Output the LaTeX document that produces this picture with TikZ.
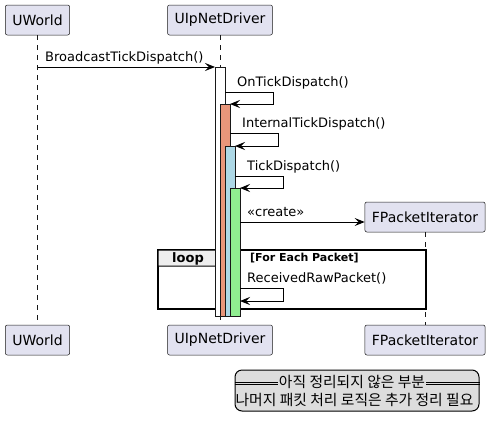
\documentclass[tikz,border=0pt]{standalone}
\usepackage{fontspec}
\setmainfont{DejaVu Sans}
\newfontfamily\kofont{Noto Sans CJK KR}
\usetikzlibrary{arrows.meta}

\definecolor{partfill}{HTML}{E2E2F0}
\definecolor{partline}{HTML}{181818}
\definecolor{barsalmon}{HTML}{E9967A}
\definecolor{barblue}{HTML}{ADD8E6}
\definecolor{bargreen}{HTML}{90EE90}
\definecolor{tabfill}{HTML}{EEEEEE}
\definecolor{notefill}{HTML}{DDDDDD}

\tikzset{
	part/.style={draw=partline, line width=0.5pt, fill=partfill, rounded corners=2pt,
		minimum height=30pt, inner xsep=7pt, font=\fontsize{14}{16}\selectfont},
	life/.style={draw=partline, line width=0.5pt, dash pattern=on 5pt off 5pt},
	bar/.style={draw=partline, line width=0.5pt, minimum width=10pt, inner sep=0pt,
		outer sep=0pt, anchor=north west},
	msg/.style={line width=1pt, -{Stealth[length=10pt, width=8pt, inset=4pt]}},
	lbl/.style={anchor=base west, inner sep=0pt, font=\fontsize{13}{15}\selectfont},
	kotext/.style={inner sep=0pt, font=\kofont\fontsize{14.8}{17}\selectfont},
}

\begin{document}
\begin{tikzpicture}[x=1pt, y=-1pt]
\useasboundingbox (0, 0) rectangle (497, 431);

\node[part] (w) at (37.5, 20) {UWorld};
\node[part] (d) at (220, 20) {UIpNetDriver};
\node[part] (fi) at (425, 217) {FPacketIterator};
\node[part] (wb) at (37.5, 340) {UWorld};
\node[part] (db) at (220, 340) {UIpNetDriver};
\node[part] (fib) at (425, 340) {FPacketIterator};

\draw[life] (w) -- (wb);
\draw[life] (d) -- (db);
\draw[life] (fi) -- (fib);

% loop group
\draw[line width=1.5pt] (158, 250) rectangle (426, 309);
\draw[line width=1pt, fill=tabfill] (158, 250) -- (234, 250) -- (234, 258) -- (226, 266) -- (158, 266) -- cycle;
\node[font=\bfseries\fontsize{13}{15}\selectfont, anchor=base] (lp) at (188, 262) {loop};
\node[font=\bfseries\fontsize{11}{13}\selectfont, anchor=base west, inner sep=0pt] (gd) at (250, 261) {[For Each Packet]};

% activations
\node[bar, fill=white, minimum height=249pt] (a1) at (215, 67) {};
\node[bar, fill=barsalmon, minimum height=212pt] (a2) at (220, 104) {};
\node[bar, fill=barblue, minimum height=170pt] (a3) at (225, 146) {};
\node[bar, fill=bargreen, minimum height=128pt] (a4) at (230, 188) {};

\draw[msg] (a1.north west -| w) -- (a1.north west);
\node[lbl] (m1) at (45, 61) {BroadcastTickDispatch()};

\draw[msg] (a1.east |- 0, 92) -- ++(48, 0) |- (a2.north east);
\node[lbl] (m2) at (237, 86) {OnTickDispatch()};

\draw[msg] (a2.east |- 0, 133) -- ++(48, 0) |- (a3.north east);
\node[lbl] (m3) at (242, 127) {InternalTickDispatch()};

\draw[msg] (a3.east |- 0, 176) -- ++(48, 0) |- (a4.north east);
\node[lbl] (m4) at (247, 170) {TickDispatch()};

\draw[msg] (a4.east |- 0, 222) -- (fi.west |- 0, 222);
\node[lbl] (m5) at (247, 216) {«create»};

\draw[msg] (a4.east |- 0, 288) -- ++(43, 0) |- (a4.east |- 0, 301);
\node[lbl] (m6) at (247, 282) {ReceivedRawPacket()};

% note
\node[draw, line width=1pt, fill=notefill, rounded corners=7pt, minimum width=244pt,
	minimum height=41pt] (nt) at (357, 390.5) {};
\draw[line width=0.8pt] (nt.west |- 0, 382.3) -- (nt.east |- 0, 382.3);
\draw[line width=0.8pt] (nt.west |- 0, 384.6) -- (nt.east |- 0, 384.6);
\node[kotext, fill=notefill, inner xsep=1pt] (nh) at (352, 382) {아직 정리되지 않은 부분};
\node[kotext] (nb) at (354.5, 399.5) {나머지 패킷 처리 로직은 추가 정리 필요};

\end{tikzpicture}
\end{document}
